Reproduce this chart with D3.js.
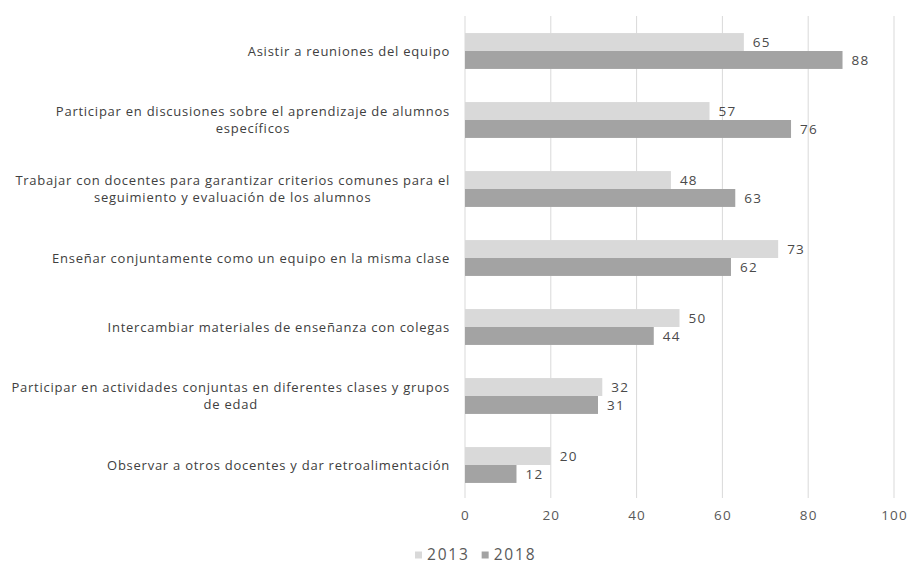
<!DOCTYPE html>
<html><head><meta charset="utf-8">
<script src="https://cdn.jsdelivr.net/npm/d3@7"></script>
<style>body{margin:0;background:#fff;} svg{display:block;font-family:"Open Sans",sans-serif;}</style>
</head><body>
<svg id="chart" width="910" height="565"></svg>
<script>
const categories = [
  ["Asistir a reuniones del equipo"],
  ["Participar en discusiones sobre el aprendizaje de alumnos", "específicos"],
  ["Trabajar con docentes para garantizar criterios comunes para el", "seguimiento y evaluación de los alumnos"],
  ["Enseñar conjuntamente como un equipo en la misma clase"],
  ["Intercambiar materiales de enseñanza con colegas"],
  ["Participar en actividades conjuntas en diferentes clases y grupos", "de edad"],
  ["Observar a otros docentes y dar retroalimentación"]
];
const seriesNames = ["2013", "2018"];
const values2013 = [65, 57, 48, 73, 50, 32, 20];
const values2018 = [88, 76, 63, 62, 44, 31, 12];
const xTicks = [0, 20, 40, 60, 80, 100];
const colors = ["#d9d9d9", "#a3a3a3"];

const svg = d3.select("#chart");
const x = d3.scaleLinear().domain([0, 100]).range([465, 894]);
const y = d3.scaleBand().domain(d3.range(categories.length)).range([16.5, 499.5]).paddingInner(0.48).paddingOuter(0.24);
const sub = d3.scaleBand().domain([0, 1]).range([0, y.bandwidth()]);

// gridlines
svg.append("g").selectAll("line").data(xTicks).join("line")
  .attr("x1", d => x(d)).attr("x2", d => x(d))
  .attr("y1", 16).attr("y2", 498)
  .attr("stroke", "#d9d9d9").attr("stroke-width", 1);

// axis tick labels
const axis = d3.axisBottom(x).tickValues(xTicks).tickSize(0).tickPadding(0);
const ax = svg.append("g").attr("transform", "translate(0,510)").call(axis);
ax.select(".domain").remove();
ax.selectAll("text").attr("fill", "#595959").style("font-size", "13.5px").style("letter-spacing", "1.2px")
  .style("font-family", "'Open Sans',sans-serif");

const series = [values2013, values2018];
series.forEach((vals, s) => {
  const g = svg.append("g");
  g.selectAll("rect").data(vals).join("rect")
    .attr("x", x(0)).attr("y", (d, i) => y(i) + sub(s))
    .attr("width", d => x(d) - x(0)).attr("height", sub.bandwidth())
    .attr("fill", colors[s]);
  g.selectAll("text").data(vals).join("text")
    .attr("x", d => x(d) + 9).attr("y", (d, i) => y(i) + sub(s) + sub.bandwidth() / 2)
    .attr("dy", "0.35em").attr("fill", "#4a4a4a").style("font-size", "13.5px").style("letter-spacing", "1.2px")
    .text(d => d);
});

// category labels
const labG = svg.append("g");
categories.forEach((lines, i) => {
  const cy = y(i) + y.bandwidth() / 2;
  const t = labG.append("text").attr("fill", "#404040").style("font-size", "13px")
    .style("letter-spacing", "0.75px").attr("text-anchor", "middle");
  const lh = 16.5;
  lines.forEach((ln, k) => {
    t.append("tspan").attr("y", cy + (k - (lines.length - 1) / 2) * lh).attr("dy", "0.35em").text(ln);
  });
  let maxW = 0;
  t.selectAll("tspan").each(function() { maxW = Math.max(maxW, this.getComputedTextLength()); });
  t.selectAll("tspan").attr("x", 450 - maxW / 2);
});

// legend
const leg = svg.append("g").attr("transform", "translate(415,555)");
let lx = 0;
seriesNames.forEach((n, s) => {
  leg.append("rect").attr("x", lx).attr("y", -3.5).attr("width", 7).attr("height", 7).attr("fill", colors[s]);
  const t = leg.append("text").attr("x", lx + 12).attr("dy", "0.35em").attr("fill", "#595959")
    .style("font-size", "15.5px").style("letter-spacing", "1.8px").text(n);
  lx += 12 + t.node().getComputedTextLength() + 12;
});
</script>
</body></html>
